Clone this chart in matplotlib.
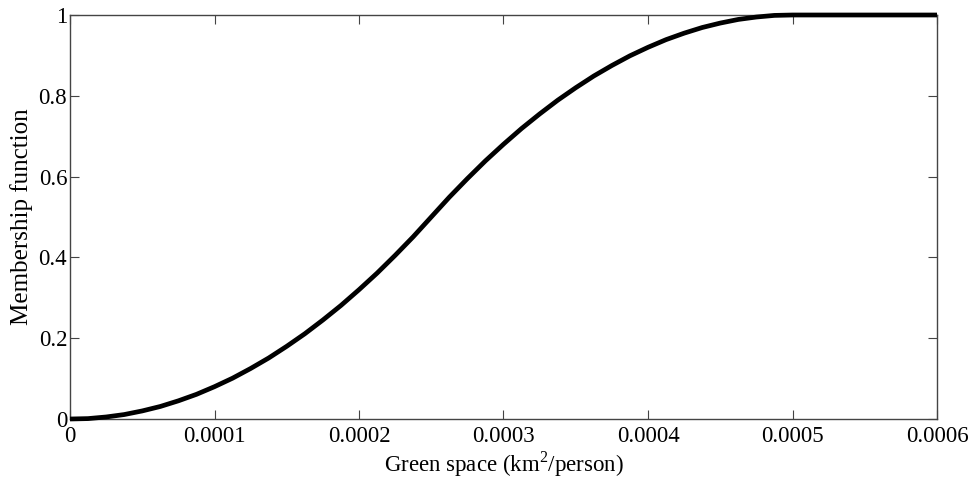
import matplotlib.pyplot as plot

# membership curve
green_space = [0.0, 0.0000125, 0.000025, 0.0000375, 0.00005, 0.0000625, 0.000075, 0.0000875,
               0.0001, 0.0001125, 0.000125, 0.0001375, 0.00015, 0.0001625, 0.000175, 0.0001875,
               0.0002, 0.0002125, 0.000225, 0.0002375, 0.00025, 0.0002625, 0.000275, 0.0002875,
               0.0003, 0.0003125, 0.000325, 0.0003375, 0.00035, 0.0003625, 0.000375, 0.0003875,
               0.0004, 0.0004125, 0.000425, 0.0004375, 0.00045, 0.0004625, 0.000475, 0.0004875,
               0.0005, 0.00055, 0.0006]
membership = [0.0, 0.001, 0.005, 0.011, 0.02, 0.031, 0.045, 0.061,
              0.08, 0.101, 0.125, 0.151, 0.18, 0.211, 0.245, 0.281,
              0.32, 0.361, 0.405, 0.451, 0.5, 0.549, 0.595, 0.639,
              0.68, 0.719, 0.755, 0.789, 0.82, 0.849, 0.875, 0.899,
              0.92, 0.939, 0.955, 0.969, 0.98, 0.989, 0.995, 0.999,
              1.0, 1.0, 1.0]

x_ticks = [0, 0.0001, 0.0002, 0.0003, 0.0004, 0.0005, 0.0006]
x_tick_labels = ["0", "0.0001", "0.0002", "0.0003", "0.0004", "0.0005", "0.0006"]
y_ticks = [0, 0.2, 0.4, 0.6, 0.8, 1]
y_tick_labels = ["0", "0.2", "0.4", "0.6", "0.8", "1"]


def main():
  plot.rcParams["font.family"] = ["Liberation Serif", "DejaVu Serif"]
  plot.rcParams["mathtext.fontset"] = "custom"
  plot.rcParams["mathtext.rm"] = "Liberation Serif"

  figure = plot.figure(figsize=(9.73, 4.79), dpi=100)
  axes = figure.add_axes([70 / 973, 60 / 479, 867 / 973, 404 / 479])

  axes.plot(green_space, membership, color="black", linewidth=3.4, clip_on=False,
            solid_capstyle="butt", zorder=3)

  axes.set_xlim(0, 0.0006)
  axes.set_ylim(0, 1)
  axes.set_xticks(x_ticks)
  axes.set_xticklabels(x_tick_labels)
  axes.set_yticks(y_ticks)
  axes.set_yticklabels(y_tick_labels)
  axes.tick_params(direction="in", length=6.5, width=0.8, color="#444444",
                   top=True, right=True, labelsize=16.5, pad=2)
  axes.tick_params(axis="x", pad=5)
  for spine in axes.spines.values():
    spine.set_color("#444444")
    spine.set_linewidth(1.0)

  axes.set_xlabel(r"Green space (km$^{\mathrm{2}}$/person)", fontsize=16.5, labelpad=2)
  axes.set_ylabel("Membership function", fontsize=18, labelpad=4)

  plot.savefig("out.png", dpi=100)
  plot.close()


if __name__ == "__main__":
  main()
